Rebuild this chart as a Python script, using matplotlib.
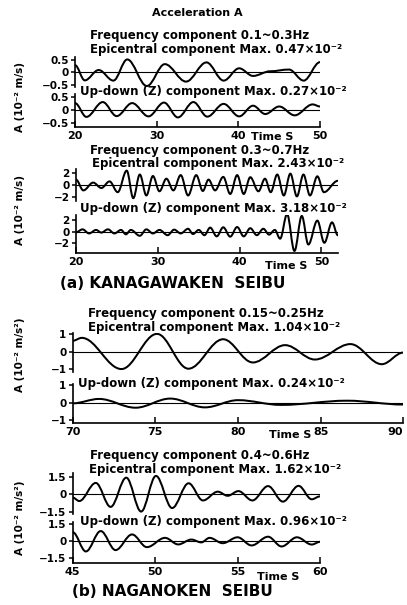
import matplotlib

matplotlib.use("Agg")
import matplotlib.pyplot as plt
from matplotlib.path import Path
from matplotlib.patches import PathPatch

W, H = 407, 605

# extrema (time s, amplitude 10^-2)
# (a) KANAGAWAKEN SEIBU, 0.1~0.3 Hz, velocity
a1_epi_t = [20.0, 21.2, 22.9, 24.7, 26.4, 28.8, 31.0, 33.6, 36.1, 38.2, 40.1, 41.8, 43.9, 46.2, 48.0, 50.0]
a1_epi_v = [0.3, -0.32, 0.1, -0.33, 0.53, -0.55, 0.34, -0.37, 0.41, -0.33, 0.17, -0.14, 0.05, 0.12, -0.33, 0.42]
a1_ud_t = [20.0, 21.4, 23.4, 25.1, 27.0, 29.0, 30.9, 32.6, 34.5, 36.2, 38.2, 40.1, 41.8, 43.3, 45.0, 46.9, 49.1, 50.0]
a1_ud_v = [0.25, -0.28, 0.29, -0.25, 0.25, -0.26, 0.27, -0.3, 0.29, -0.27, 0.22, -0.26, 0.15, -0.17, 0.12, -0.22, 0.2, 0.12]

# (a) 0.3~0.7 Hz
a2_epi_t = [20.0, 20.9, 22.1, 23.1, 24.1, 25.1, 26.2, 27.0, 27.8, 28.6, 29.4, 30.2, 31.05, 31.9, 32.8, 33.7,
            34.7, 35.5, 36.2, 37.0, 38.0, 38.85, 39.7, 40.5, 41.3, 42.3, 43.1, 43.8, 44.6, 45.4, 46.2, 47.0,
            47.8, 48.6, 49.5, 50.3, 52.0]
a2_epi_v = [0.9, -0.9, 0.4, -0.5, 0.6, -1.2, 2.4, -2.2, 1.75, -1.75, 1.5, -1.05, 1.05, -0.9, 1.65, -1.75,
            1.65, -1.0, 0.9, -0.9, 1.35, -1.5, 1.65, -1.5, 1.3, -1.05, 1.05, -1.2, 1.75, -1.75, 1.9, -1.9,
            1.75, -1.75, 1.45, -1.2, 0.7]
a2_ud_t = [20.0, 20.8, 21.6, 22.45, 23.1, 23.9, 24.7, 25.5, 26.1, 26.7, 27.8, 28.6, 29.4, 30.2, 31.2, 32.0,
           32.8, 33.7, 34.3, 35.0, 35.7, 36.4, 37.2, 38.0, 38.85, 39.7, 40.5, 41.3, 42.1, 42.9, 43.6, 44.3,
           44.95, 45.8, 46.7, 47.6, 48.4, 49.5, 50.35, 51.3, 52.0]
a2_ud_v = [-0.1, 0.4, -0.3, 0.3, -0.15, 0.4, -0.3, 0.3, -0.45, 0.3, -0.7, 0.4, -0.3, 0.3, -0.6, 0.35,
           -0.3, 0.5, -0.4, 0.3, -0.6, 0.7, -0.8, 0.75, -0.85, 0.8, -0.8, 0.6, -0.6, 0.5, -0.5, 0.3,
           -1.2, 3.0, -3.3, 2.7, -2.2, 1.9, -1.9, 1.6, -0.6]

# (b) NAGANOKEN SEIBU, 0.15~0.25 Hz, acceleration
b1_epi_t = [70.0, 70.55, 72.95, 75.1, 77.0, 79.1, 80.9, 82.85, 84.65, 86.8, 88.7, 90.0]
b1_epi_v = [0.63, 0.8, -1.0, 1.03, -0.98, 0.72, -0.62, 0.38, -0.45, 0.44, -0.72, -0.05]
b1_ud_t = [70.0, 71.6, 73.8, 75.9, 78.0, 80.0, 82.6, 86.6, 90.0]
b1_ud_v = [-0.03, 0.22, -0.28, 0.24, -0.26, 0.15, -0.12, 0.12, -0.1]

# (b) 0.4~0.6 Hz
b2_epi_t = [45.0, 45.4, 46.4, 47.3, 48.25, 49.15, 50.05, 51.03, 52.03, 52.9, 53.8, 54.4, 55.05, 55.9,
            56.85, 57.75, 58.7, 59.5, 60.0]
b2_epi_v = [-0.3, -0.6, 0.95, -1.1, 1.4, -1.5, 1.55, -1.2, 0.92, -0.55, 0.2, -0.15, 0.25, -0.55,
            0.68, -0.65, 0.7, -0.45, -0.2]
b2_ud_t = [45.0, 45.8, 46.7, 47.6, 48.6, 49.5, 50.6, 51.4, 52.2, 52.8, 53.3, 54.1, 55.0, 55.85,
           56.85, 57.67, 58.6, 59.5, 60.0]
b2_ud_v = [0.8, -0.9, 0.9, -0.78, 0.6, -0.52, 0.3, -0.28, 0.15, -0.1, 0.3, -0.17, 0.35, -0.37,
           0.4, -0.46, 0.35, -0.29, -0.05]

FS = 8.5
TICK_FS = 7.5


def px_axes(fig, left, right, top, bottom):
    return fig.add_axes([left / W, 1 - bottom / H, (right - left) / W, (bottom - top) / H])


def wave(ax, t, v):
    # smooth curve through the extrema (horizontal tangents at each one)
    verts = [(t[0], v[0])]
    codes = [Path.MOVETO]
    for i in range(1, len(t)):
        dt = t[i] - t[i - 1]
        verts += [(t[i - 1] + 0.36 * dt, v[i - 1]), (t[i] - 0.36 * dt, v[i]), (t[i], v[i])]
        codes += [Path.CURVE4] * 3
    ax.add_patch(PathPatch(Path(verts, codes), fill=False, lw=1.45, ec="black",
                           capstyle="round", joinstyle="round"))


def style(ax, xlim, ylim, yticks, ylabels, xticks=None):
    ax.set_xlim(xlim)
    ax.set_ylim(ylim)
    ax.patch.set_visible(False)
    for s in ["top", "right"]:
        ax.spines[s].set_visible(False)
    ax.spines["left"].set_linewidth(1.2)
    ax.set_yticks(yticks)
    ax.set_yticklabels(ylabels, fontsize=TICK_FS, fontweight="bold")
    ax.tick_params(axis="y", direction="out", length=3, width=1.1, pad=1.5)
    ax.axhline(0, color="black", lw=0.8)
    if xticks is None:
        ax.spines["bottom"].set_visible(False)
        ax.set_xticks([])
    else:
        ax.spines["bottom"].set_linewidth(1.2)
        ax.set_xticks(xticks)
        labels = ax.set_xticklabels([str(x) for x in xticks], fontsize=TICK_FS + 0.5, fontweight="bold")
        ax.tick_params(axis="x", direction="in", length=4, width=1.1, pad=3)
        return labels


def ftext(fig, x, y, s, **kw):
    fig.text(x / W, 1 - y / H, s, va="center", **kw)


fig = plt.figure(figsize=(W / 100, H / 100), dpi=100)
plt.rcParams["font.family"] = "DejaVu Sans"

ftext(fig, 197, 13, "Acceleration A", ha="center", fontsize=8, fontweight="bold")

# panel (a) 0.1~0.3 Hz
ax = px_axes(fig, 75, 320, 57, 87)
wave(ax, a1_epi_t, a1_epi_v)
style(ax, (20, 50), (-0.59, 0.63), [0.5, 0, -0.5], ["0.5", "0", "\u22120.5"])
ax = px_axes(fig, 75, 320, 94, 127.3)
wave(ax, a1_ud_t, a1_ud_v)
style(ax, (20, 50), (-0.68, 0.6), [0.5, 0, -0.5], ["0.5", "0", "\u22120.5"], [20, 30, 40, 50])
ftext(fig, 90, 35, "Frequency component 0.1~0.3Hz", fontsize=FS, fontweight="bold")
ftext(fig, 90, 50, "Epicentral component Max. 0.47\u00d710\u207b\u00b2", fontsize=FS, fontweight="bold")
ftext(fig, 80, 92, "Up-down (Z) component Max. 0.27\u00d710\u207b\u00b2", fontsize=FS, fontweight="bold")
ftext(fig, 272, 137, "Time S", ha="center", fontsize=TICK_FS + 0.5, fontweight="bold")
ftext(fig, 20, 97, "A (10\u207b\u00b2 m/s)", ha="center", rotation=90, fontsize=7.5, fontweight="bold")

# panel (a) 0.3~0.7 Hz
ax = px_axes(fig, 76, 337.8, 169, 201)
wave(ax, a2_epi_t, a2_epi_v)
style(ax, (20, 52), (-2.67, 2.67), [2, 0, -2], ["2", "0", "\u22122"])
ax = px_axes(fig, 76, 337.8, 215, 252.7)
wave(ax, a2_ud_t, a2_ud_v)
style(ax, (20, 52), (-3.6, 2.86), [2, 0, -2], ["2", "0", "\u22122"], [20, 30, 40, 50])
ftext(fig, 90, 150, "Frequency component 0.3~0.7Hz", fontsize=FS, fontweight="bold")
ftext(fig, 92, 164, "Epicentral component Max. 2.43\u00d710\u207b\u00b2", fontsize=FS, fontweight="bold")
ftext(fig, 80, 208, "Up-down (Z) component Max. 3.18\u00d710\u207b\u00b2", fontsize=FS, fontweight="bold")
ftext(fig, 286, 266, "Time S", ha="center", fontsize=TICK_FS + 0.5, fontweight="bold")
ftext(fig, 20, 210, "A (10\u207b\u00b2 m/s)", ha="center", rotation=90, fontsize=7.5, fontweight="bold")
ftext(fig, 60, 283, "(a) KANAGAWAKEN  SEIBU", fontsize=11, fontweight="bold")

# panel (b) 0.15~0.25 Hz
ax = px_axes(fig, 72.7, 403.3, 333, 372)
wave(ax, b1_epi_t, b1_epi_v)
style(ax, (70, 90), (-1.17, 1.08), [1, 0, -1], ["1", "0", "\u22121"])
ax = px_axes(fig, 72.7, 403.3, 384, 423)
wave(ax, b1_ud_t, b1_ud_v)
labels = style(ax, (70, 90), (-1.15, 1.07), [1, 0, -1], ["1", "0", "\u22121"], [70, 75, 80, 85, 90])
labels[-1].set_horizontalalignment("right")
ftext(fig, 88, 313, "Frequency component 0.15~0.25Hz", fontsize=FS, fontweight="bold")
ftext(fig, 88, 327, "Epicentral component Max. 1.04\u00d710\u207b\u00b2", fontsize=FS, fontweight="bold")
ftext(fig, 78, 383, "Up-down (Z) component Max. 0.24\u00d710\u207b\u00b2", fontsize=FS, fontweight="bold")
ftext(fig, 290, 435, "Time S", ha="center", fontsize=TICK_FS + 0.5, fontweight="bold")
ftext(fig, 20, 355, "A (10\u207b\u00b2 m/s\u00b2)", ha="center", rotation=90, fontsize=7.5, fontweight="bold")

# panel (b) 0.4~0.6 Hz
ax = px_axes(fig, 72.7, 320, 473, 514)
wave(ax, b2_epi_t, b2_epi_v)
style(ax, (45, 60), (-1.71, 1.8), [1.5, 0, -1.5], ["1.5", "0", "\u22121.5"])
ax = px_axes(fig, 72.7, 320, 522, 563)
wave(ax, b2_ud_t, b2_ud_v)
style(ax, (45, 60), (-1.92, 1.7), [1.5, 0, -1.5], ["1.5", "0", "\u22121.5"], [45, 50, 55, 60])
ftext(fig, 90, 455, "Frequency component 0.4~0.6Hz", fontsize=FS, fontweight="bold")
ftext(fig, 89, 469, "Epicentral component Max. 1.62\u00d710\u207b\u00b2", fontsize=FS, fontweight="bold")
ftext(fig, 80, 522, "Up-down (Z) component Max. 0.96\u00d710\u207b\u00b2", fontsize=FS, fontweight="bold")
ftext(fig, 278, 577, "Time S", ha="center", fontsize=TICK_FS + 0.5, fontweight="bold")
ftext(fig, 20, 518, "A (10\u207b\u00b2 m/s\u00b2)", ha="center", rotation=90, fontsize=7.5, fontweight="bold")
ftext(fig, 72, 591, "(b) NAGANOKEN  SEIBU", fontsize=11, fontweight="bold")

fig.savefig("out.png", dpi=100)
